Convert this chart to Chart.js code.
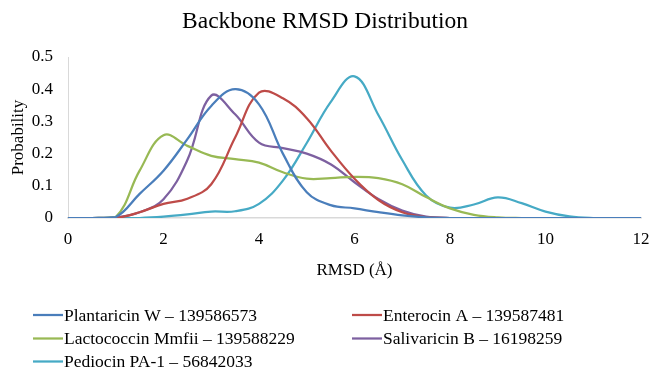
<!DOCTYPE html>
<html>
<head>
<meta charset="utf-8">
<script src="https://cdn.jsdelivr.net/npm/chart.js@4"></script>
<style>
  html, body { margin: 0; padding: 0; background: #fff; }
  #wrap { width: 650px; height: 369px; position: relative; }
</style>
</head>
<body>
<div id="wrap"><canvas id="rmsdChart"></canvas></div>
<script>
// RMSD bins (Å)
const rmsd = [0, 0.5, 1, 1.5, 2, 2.5, 3, 3.5, 4, 4.5, 5, 5.5, 6, 6.5, 7, 7.5, 8, 8.5, 9, 9.5, 10, 10.5, 11, 11.5, 12];

// probability per bin
const plantaricin = [0, 0, 0.003, 0.075, 0.147, 0.245, 0.348, 0.40, 0.353, 0.2, 0.08, 0.04, 0.03, 0.018, 0.008, 0.002, 0, 0, 0, 0, 0, 0, 0, 0, 0];
const enterocin   = [0, 0, 0, 0.018, 0.044, 0.06, 0.105, 0.25, 0.389, 0.372, 0.31, 0.21, 0.122, 0.056, 0.018, 0.003, 0, 0, 0, 0, 0, 0, 0, 0, 0];
const lactococcin = [0, 0, 0.003, 0.147, 0.257, 0.224, 0.193, 0.183, 0.172, 0.142, 0.122, 0.124, 0.128, 0.124, 0.105, 0.065, 0.03, 0.01, 0.002, 0, 0, 0, 0, 0, 0];
const salivaricin = [0, 0, 0.002, 0.018, 0.058, 0.18, 0.38, 0.322, 0.234, 0.217, 0.2, 0.167, 0.111, 0.059, 0.023, 0.004, 0, 0, 0, 0, 0, 0, 0, 0, 0];
const pediocin    = [0, 0, 0, 0, 0.004, 0.011, 0.02, 0.021, 0.044, 0.116, 0.233, 0.36, 0.44, 0.32, 0.18, 0.07, 0.032, 0.042, 0.064, 0.046, 0.02, 0.005, 0, 0, 0];

const seriesNames = [
  "Plantaricin W – 139586573",
  "Enterocin A – 139587481",
  "Lactococcin Mmfii – 139588229",
  "Salivaricin B – 16198259",
  "Pediocin PA-1 – 56842033"
];

const xTicks = [0, 2, 4, 6, 8, 10, 12];
const yTicks = [0, 0.1, 0.2, 0.3, 0.4, 0.5];

const serif = "'Liberation Serif', 'Times New Roman', serif";

const toPoints = (vals) => vals.map((v, i) => ({ x: rmsd[i], y: v }));

const mkSet = (label, vals, color) => ({
  label: label,
  data: toPoints(vals),
  borderColor: color,
  backgroundColor: color,
  borderWidth: 2.25,
  pointRadius: 0,
  tension: 0.4,
  fill: false
});

// title centred on the whole canvas
const titlePlugin = {
  id: "plotTitle",
  afterDraw(chart) {
    const ctx = chart.ctx;
    ctx.save();
    ctx.font = "23.5px " + serif;
    ctx.fillStyle = "#000";
    ctx.textAlign = "center";
    ctx.textBaseline = "middle";
    ctx.fillText("Backbone RMSD Distribution", chart.width / 2, 22);
    ctx.restore();
  }
};

// two column legend under the chart
const legendPlugin = {
  id: "twoColLegend",
  afterDraw(chart) {
    const ctx = chart.ctx;
    const cols = [33, 352];
    const rows = [315, 338.5, 361.5];
    ctx.save();
    ctx.font = "17.5px " + serif;
    ctx.textBaseline = "middle";
    ctx.textAlign = "left";
    chart.data.datasets.forEach((ds, i) => {
      const x = cols[i % 2];
      const y = rows[Math.floor(i / 2)];
      ctx.strokeStyle = ds.borderColor;
      ctx.lineWidth = 2.25;
      ctx.beginPath();
      ctx.moveTo(x, y);
      ctx.lineTo(x + 30, y);
      ctx.stroke();
      ctx.fillStyle = "#000";
      ctx.fillText(ds.label, x + 31, y + 1);
    });
    ctx.restore();
  }
};

new Chart(document.getElementById("rmsdChart"), {
  type: "line",
  data: {
    datasets: [
      mkSet(seriesNames[0], plantaricin, "#4a7ebb"),
      mkSet(seriesNames[1], enterocin, "#be4b48"),
      mkSet(seriesNames[2], lactococcin, "#98b954"),
      mkSet(seriesNames[3], salivaricin, "#7d60a0"),
      mkSet(seriesNames[4], pediocin, "#46aac5")
    ]
  },
  options: {
    responsive: true,
    maintainAspectRatio: false,
    animation: false,
    layout: { padding: { top: 57, right: 0, bottom: 88, left: 0 } },
    plugins: {
      legend: { display: false },
      title: { display: false },
      tooltip: { enabled: false }
    },
    scales: {
      x: {
        type: "linear",
        min: 0,
        max: 12,
        afterBuildTicks: (s) => { s.ticks = xTicks.map((v) => ({ value: v })); },
        afterFit: (s) => { s.height = 63; s.paddingRight = 9; s.paddingLeft = 0; },
        grid: { display: false, drawTicks: false },
        border: { display: true, color: "#d9d9d9", width: 1.5 },
        ticks: { color: "#000", font: { family: serif, size: 17 }, padding: 11, maxRotation: 0 },
        title: { display: true, text: "RMSD (Å)", color: "#000", font: { family: serif, size: 17 }, padding: { top: 4, bottom: 0 } }
      },
      y: {
        min: 0,
        max: 0.5,
        afterBuildTicks: (s) => { s.ticks = yTicks.map((v) => ({ value: v })); },
        afterFit: (s) => { s.width = 68; },
        grid: { display: false, drawTicks: false },
        border: { display: true, color: "#d9d9d9", width: 1 },
        ticks: { color: "#000", font: { family: serif, size: 17 }, padding: 15 },
        title: { display: true, text: "Probability", color: "#000", font: { family: serif, size: 17 }, padding: { top: 8, bottom: 0 } }
      }
    }
  },
  plugins: [titlePlugin, legendPlugin]
});
</script>
</body>
</html>
